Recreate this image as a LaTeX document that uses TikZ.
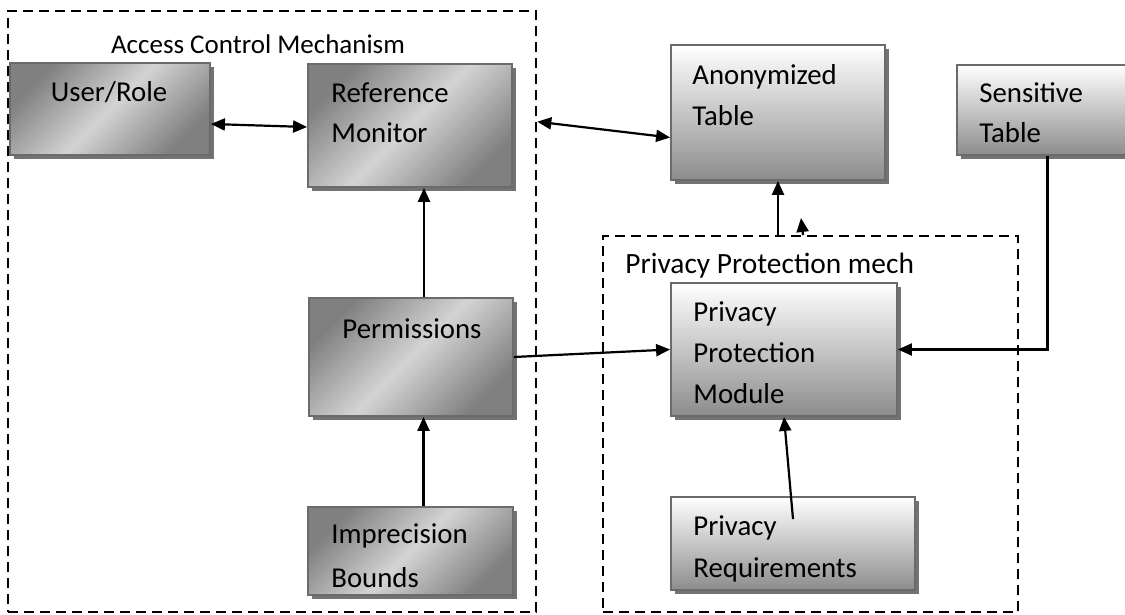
\documentclass[tikz,border=0pt]{standalone}
\usepackage{fontspec}
\setmainfont{Carlito}
\usetikzlibrary{arrows.meta,shadows,fit}
\begin{document}
\begin{tikzpicture}[x=0.5pt,y=-0.5pt,
  box/.style={draw=black!58, line width=0.9pt, inner sep=0pt,
    drop shadow={shadow xshift=2pt, shadow yshift=-2pt, fill=black!55, opacity=1}},
  diagbox/.style={box, left color=black!50, right color=black!50, middle color=black!17, shading angle=45},
  vertbox/.style={box, top color=white, bottom color=black!45},
  dbox/.style={draw=black, line width=1.3pt, dash pattern=on 5pt off 3pt, inner sep=0pt},
  txt/.style={font=\fontsize{14.4}{20.5}\selectfont, align=left, inner sep=0pt, anchor=base west},
  lbl/.style={font=\fontsize{14.4}{20.5}\selectfont, inner sep=0pt, anchor=base},
  arr/.style={line width=1.1pt, -{Triangle[length=7pt,width=6pt]}},
  biarr/.style={line width=1.1pt, {Triangle[length=7pt,width=6pt]}-{Triangle[length=7pt,width=6pt]}}
]
\useasboundingbox (0,0) rectangle (1125,615);

% dashed containers
\node[dbox, fit={(8,11) (536,612)}] (acm) {};
\node[dbox, fit={(603,236) (1018,612)}] (ppmech) {};
\node[lbl, font=\fontsize{13.5}{20}\selectfont] (acmlbl) at (258,54) {Access Control Mechanism};
\node[lbl, anchor=base west, font=\fontsize{14.7}{20}\selectfont] (ppmlbl) at (625,273) {Privacy Protection mech};

% boxes
\node[diagbox, fit={(10,63) (210,155)}] (user) {};
\node[diagbox, fit={(308,64) (512,187)}] (refmon) {};
\node[vertbox, fit={(671,45) (885,180)}] (anon) {};
\node[vertbox, fit={(957,65) (1128,155)}] (sens) {};
\node[diagbox, fit={(309,298) (513,416)}] (perm) {};
\node[vertbox, fit={(671,283) (897,416)}] (ppm) {};
\node[diagbox, fit={(308,507) (513,595)}] (imp) {};
\node[vertbox, fit={(671,497) (915,590)}] (preq) {};

% texts (base anchor = baseline of the last line)
\node[lbl] (usert) at (109,102) {User/Role};
\node[txt] (refmont) at (331,143) {Reference\\Monitor};
\node[txt] (anont) at (692,126) {Anonymized\\Table};
\node[txt] (senst) at (979,143) {Sensitive\\Table};
\node[lbl] (permt) at (412,338) {Permissions};
\node[txt] (ppmt) at (693,403) {Privacy\\Protection\\Module};
\node[txt, font=\fontsize{14.4}{22}\selectfont] (impt) at (331,587) {Imprecision\\Bounds};
\node[txt, font=\fontsize{14.4}{21}\selectfont] (preqt) at (693,577) {Privacy\\Requirements};

% connectors
\draw[biarr] ([yshift=-7.5pt]user.east) -- ([yshift=-0.75pt]refmon.west);
\draw[biarr] ([yshift=-56pt]acm.north east) -- ([yshift=-12.5pt]anon.west);
\draw[arr] ([xshift=6.5pt]perm.north) -- ([xshift=6.5pt]perm.north |- refmon.south);
\draw[arr] ([xshift=6.5pt]imp.north) -- ([xshift=6.5pt]imp.north |- perm.south);
\draw[arr] (perm.east) -- (ppm.west);
\draw[arr] (anon.south |- ppmech.north) -- (anon.south);
\coordinate (sa) at (803,235);
\coordinate (sb) at (801,218);
\draw[arr] (sa) -- (sb);
\draw[arr] ([xshift=2.5pt]sens.south) |- (ppm.east);
\draw[arr] ([yshift=-11.5pt]preq.north) -- (ppm.south);
\end{tikzpicture}
\end{document}
